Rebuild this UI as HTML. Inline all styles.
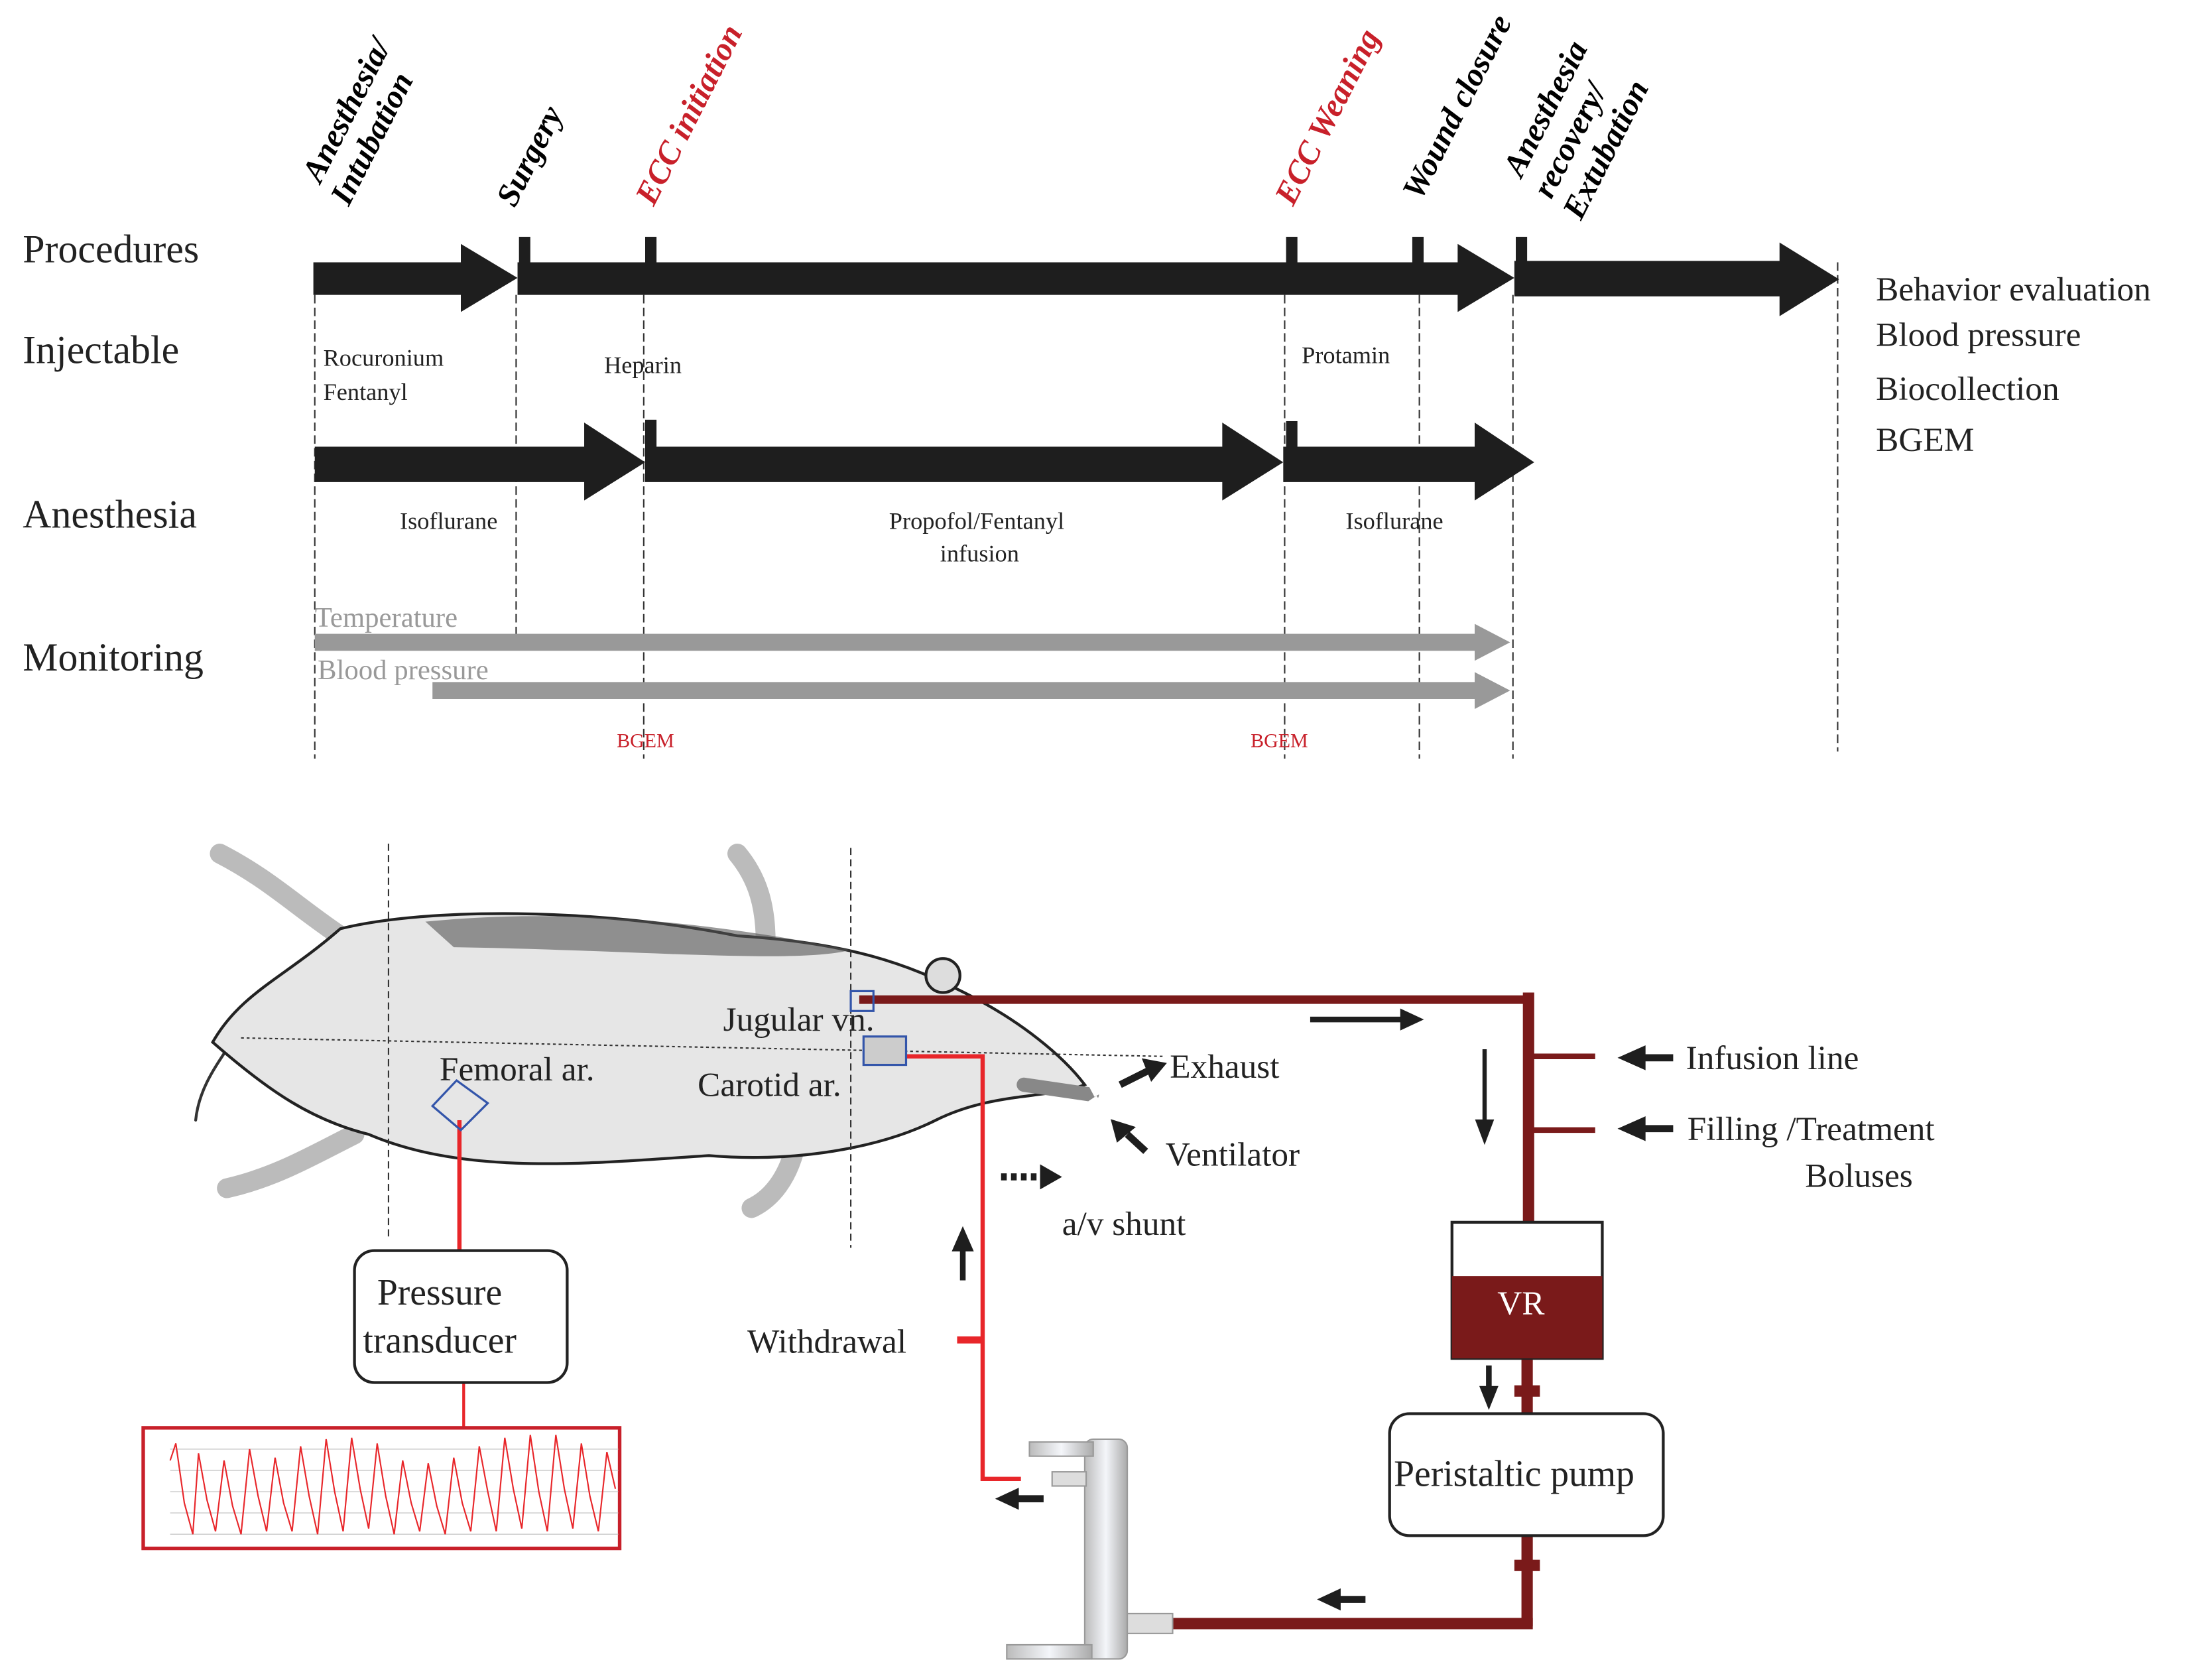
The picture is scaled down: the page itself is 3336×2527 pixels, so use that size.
<!DOCTYPE html>
<html><head><meta charset="utf-8"><style>
html,body{margin:0;padding:0;background:#fff;}
svg{display:block;}
text{font-family:"Liberation Serif",serif;}
</style></head><body>
<svg width="3336" height="2527" viewBox="0 0 1560 1182" preserveAspectRatio="none" xmlns="http://www.w3.org/2000/svg">
<defs>
<linearGradient id="sh" x1="0" x2="1" y1="0" y2="0"><stop offset="0" stop-color="#e8262a"/><stop offset="0.7" stop-color="#d0503a"/><stop offset="1" stop-color="#7a1a1a"/></linearGradient>
<linearGradient id="tube" x1="0" x2="1"><stop offset="0" stop-color="#bbb"/><stop offset="0.5" stop-color="#f4f6fa"/><stop offset="1" stop-color="#aaa"/></linearGradient>
</defs>
<rect width="1560" height="1182" fill="#fff"/>
<g font-weight="bold" font-style="italic" font-size="23">
<text transform="translate(226,130) rotate(-63)">Anesthesia/</text>
<text transform="translate(246,146) rotate(-63)">Intubation</text>
<text transform="translate(363,147) rotate(-63)">Surgery</text>
<text transform="translate(461,146) rotate(-63)" fill="#c8202a">ECC initiation</text>
<text transform="translate(912,146) rotate(-63)" fill="#c8202a">ECC Weaning</text>
<text transform="translate(1002,142) rotate(-63)">Wound closure</text>
<text transform="translate(1073,126) rotate(-63)">Anesthesia</text>
<text transform="translate(1094,141) rotate(-63)">recovery/</text>
<text transform="translate(1115,156) rotate(-63)">Extubation</text>
</g>
<g font-size="28" fill="#222">
<text x="16" y="185">Procedures</text>
<text x="16" y="256">Injectable</text>
<text x="16" y="372">Anesthesia</text>
<text x="16" y="473">Monitoring</text>
</g>
<g stroke="#333" stroke-width="1" stroke-dasharray="6,3">
<line x1="222" y1="208" x2="222" y2="535"/><line x1="364" y1="208" x2="364" y2="450"/>
<line x1="454" y1="208" x2="454" y2="535"/><line x1="906" y1="208" x2="906" y2="535"/>
<line x1="1001" y1="208" x2="1001" y2="535"/><line x1="1067" y1="208" x2="1067" y2="535"/>
<line x1="1296" y1="185" x2="1296" y2="530"/>
</g>
<g fill="#1e1e1e">
<polygon points="221,185 325,185 325,172 365,196 325,220 325,208 221,208"/>
<polygon points="365,185 1028,185 1028,172 1068,196 1028,220 1028,208 365,208"/>
<polygon points="1068,184 1255,184 1255,171 1297,197 1255,223 1255,209 1068,209"/>
<rect x="366" y="167" width="8" height="20"/><rect x="455" y="167" width="8" height="20"/>
<rect x="907" y="167" width="8" height="20"/><rect x="996" y="167" width="8" height="20"/>
<rect x="1069" y="167" width="8" height="20"/>
<polygon points="222,315 412,315 412,298 455,326 412,353 412,340 222,340"/>
<polygon points="455,315 862,315 862,298 905,326 862,353 862,340 455,340"/>
<polygon points="905,315 1040,315 1040,298 1082,326 1040,353 1040,340 905,340"/>
<rect x="455" y="296" width="8" height="20"/><rect x="907" y="297" width="8" height="20"/>
</g>
<g font-size="17" fill="#222">
<text x="228" y="258">Rocuronium</text><text x="228" y="282">Fentanyl</text>
<text x="426" y="263">Heparin</text><text x="918" y="256">Protamin</text>
<text x="282" y="373">Isoflurane</text><text x="627" y="373">Propofol/Fentanyl</text>
<text x="663" y="396">infusion</text><text x="949" y="373">Isoflurane</text>
</g>
<g fill="#999">
<text x="222" y="442" font-size="20">Temperature</text>
<polygon points="222,447 1040,447 1040,440 1065,453 1040,466 1040,459 222,459"/>
<text x="224" y="479" font-size="20">Blood pressure</text>
<polygon points="305,481 1040,481 1040,474 1065,487 1040,500 1040,493 305,493"/>
</g>
<g font-size="14" fill="#c8202a"><text x="435" y="527">BGEM</text><text x="882" y="527">BGEM</text></g>
<g font-size="24" fill="#222">
<text x="1323" y="212">Behavior evaluation</text><text x="1323" y="244">Blood pressure</text>
<text x="1323" y="282">Biocollection</text><text x="1323" y="318">BGEM</text>
</g>
<g stroke="#333" stroke-linecap="round" fill="none">
<path d="M240,660 C210,640 190,620 155,602" stroke-width="14" stroke="#bbb"/>
<path d="M540,665 C540,640 535,620 520,602" stroke-width="14" stroke="#bbb"/>
<path d="M250,800 C220,815 195,830 160,838" stroke-width="14" stroke="#bbb"/>
<path d="M560,812 C555,830 545,845 530,852" stroke-width="14" stroke="#bbb"/>
<path d="M160,740 C150,755 140,770 138,790" stroke-width="2"/>
</g>
<path d="M150,735 C170,700 200,690 240,655 C300,640 420,640 520,660 C600,665 640,680 680,700 C720,720 750,745 765,765 C740,775 700,770 660,790 C620,810 560,820 500,815 C420,820 330,830 260,800 C220,790 190,770 150,735 Z" fill="#e6e6e6" stroke="#222" stroke-width="2"/>
<path d="M300,650 C400,640 500,650 600,670 C560,680 450,670 320,668 Z" fill="#555" opacity="0.6"/>
<circle cx="665" cy="688" r="12" fill="#ddd" stroke="#222" stroke-width="2"/>
<g stroke="#333" stroke-width="1" stroke-dasharray="5,3" fill="none">
<line x1="274" y1="595" x2="274" y2="875"/><line x1="600" y1="598" x2="600" y2="880"/>
<line x1="170" y1="732" x2="820" y2="745" stroke-dasharray="2,2"/>
</g>
<g fill="none" stroke-linecap="butt">
<polyline points="606,705 1078,705" stroke="#7a1a1a" stroke-width="6"/>
<line x1="1078" y1="700" x2="1078" y2="862" stroke="#7a1a1a" stroke-width="8"/>
<line x1="1078" y1="745" x2="1125" y2="745" stroke="#7a1a1a" stroke-width="4"/>
<line x1="1078" y1="797" x2="1125" y2="797" stroke="#7a1a1a" stroke-width="4"/>
<line x1="693" y1="847" x2="1078" y2="847" stroke="url(#sh)" stroke-width="5"/>
<polyline points="612,745 693,745 693,1043 720,1043" stroke="#e8262a" stroke-width="3"/>
<line x1="675" y1="945" x2="693" y2="945" stroke="#e8262a" stroke-width="5"/>
<line x1="324" y1="790" x2="324" y2="882" stroke="#e8262a" stroke-width="3"/>
<line x1="327" y1="975" x2="327" y2="1007" stroke="#e8262a" stroke-width="2"/>
<line x1="1077" y1="958" x2="1077" y2="997" stroke="#7a1a1a" stroke-width="8"/>
<line x1="1077" y1="1083" x2="1077" y2="1147" stroke="#7a1a1a" stroke-width="8"/>
<line x1="826" y1="1145" x2="1081" y2="1145" stroke="#7a1a1a" stroke-width="8"/>
</g>
<rect x="1068" y="977" width="18" height="8" fill="#7a1a1a"/><rect x="1068" y="1100" width="18" height="8" fill="#7a1a1a"/>
<rect x="600" y="699" width="16" height="14" fill="none" stroke="#3355aa" stroke-width="1.5"/>
<rect x="609" y="731" width="30" height="20" fill="#ccc" stroke="#3355aa" stroke-width="1.5"/>
<polygon points="322,762 344,778 325,797 305,780" fill="none" stroke="#3355aa" stroke-width="1.5"/>
<g stroke="#222" stroke-width="2">
<line x1="722" y1="765" x2="770" y2="772" stroke="#888" stroke-width="10" stroke-linecap="round"/>
<line x1="770" y1="770" x2="785" y2="762" stroke="#fff" stroke-width="8"/>
<line x1="770" y1="775" x2="780" y2="790" stroke="#fff" stroke-width="8"/>
</g>
<g fill="#1e1e1e" stroke="#1e1e1e">
<line x1="924" y1="719" x2="990" y2="719" stroke-width="4"/><polygon points="988,712 1003,719 988,726"/>
<line x1="1047" y1="740" x2="1047" y2="792" stroke-width="3"/><polygon points="1041,790 1047,806 1053,790"/>
<line x1="706" y1="830" x2="734" y2="830" stroke-width="5" stroke-dasharray="4,3"/><polygon points="734,822 748,830 734,838"/>
<line x1="679" y1="903" x2="679" y2="880" stroke-width="4"/><polygon points="672,882 679,866 686,882"/>
<line x1="1160" y1="746" x2="1180" y2="746" stroke-width="5"/><polygon points="1160,738 1142,746 1160,754"/>
<line x1="1160" y1="796" x2="1180" y2="796" stroke-width="5"/><polygon points="1160,788 1142,796 1160,804"/>
<line x1="718" y1="1057" x2="736" y2="1057" stroke-width="5"/><polygon points="718,1050 703,1057 718,1064"/>
<line x1="945" y1="1128" x2="963" y2="1128" stroke-width="5"/><polygon points="945,1121 930,1128 945,1135"/>
<line x1="1050" y1="963" x2="1050" y2="980" stroke-width="4"/><polygon points="1044,978 1050,993 1056,978"/>
<line x1="790" y1="765" x2="810" y2="755" stroke-width="5"/><polygon points="806,747 822,750 812,762"/>
<line x1="808" y1="812" x2="795" y2="800" stroke-width="5"/><polygon points="788,805 784,790 800,795"/>
</g>
<rect x="250" y="882" width="150" height="93" rx="14" fill="#fff" stroke="#222" stroke-width="2"/>
<rect x="980" y="997" width="193" height="86" rx="14" fill="#fff" stroke="#222" stroke-width="2"/>
<rect x="1024" y="862" width="106" height="96" fill="#fff" stroke="#222" stroke-width="2"/>
<rect x="1024" y="900" width="106" height="58" fill="#7a1a1a"/>
<rect x="101" y="1007" width="336" height="85" fill="#fff" stroke="#c8202a" stroke-width="2.5"/>
<g stroke="#ccc" stroke-width="0.7"><line x1="120" y1="1022" x2="436" y2="1022"/><line x1="120" y1="1037" x2="436" y2="1037"/><line x1="120" y1="1052" x2="436" y2="1052"/><line x1="120" y1="1067" x2="436" y2="1067"/><line x1="120" y1="1082" x2="436" y2="1082"/></g>
<polyline fill="none" stroke="#e8262a" stroke-width="1" points="120,1030 124,1018 130,1060 136,1082 140,1025 146,1058 152,1080 158,1030 164,1062 170,1082 176,1022 182,1055 188,1080 194,1028 200,1060 206,1080 212,1020 218,1055 224,1082 230,1015 236,1052 242,1080 248,1014 254,1050 260,1078 266,1018 272,1055 278,1082 284,1030 290,1060 296,1080 302,1032 308,1062 314,1082 320,1028 326,1060 332,1080 338,1020 344,1052 350,1080 356,1014 362,1050 368,1078 374,1012 380,1052 386,1080 392,1012 398,1050 404,1078 410,1018 416,1055 422,1080 428,1024 434,1050"/>
<rect x="765" y="1015" width="30" height="155" rx="6" fill="url(#tube)" stroke="#999"/>
<rect x="726" y="1017" width="45" height="10" fill="url(#tube)" stroke="#999"/>
<rect x="710" y="1160" width="60" height="10" fill="url(#tube)" stroke="#999"/>
<rect x="742" y="1038" width="24" height="10" fill="#ddd" stroke="#999"/>
<rect x="795" y="1138" width="32" height="14" fill="#ddd" stroke="#999"/>
<g font-size="24" fill="#222">
<text x="510" y="727">Jugular vn.</text><text x="492" y="773">Carotid  ar.</text>
<text x="310" y="762">Femoral ar.</text>
<text x="825" y="760">Exhaust</text><text x="822" y="822">Ventilator</text>
<text x="1189" y="754">Infusion line</text><text x="1190" y="804">Filling /Treatment</text>
<text x="1273" y="837">Boluses</text><text x="749" y="871">a/v shunt</text>
<text x="527" y="954">Withdrawal</text>
<text x="266" y="920" font-size="26">Pressure</text><text x="256" y="954" font-size="26">transducer</text>
<text x="983" y="1048" font-size="26">Peristaltic pump</text>
<text x="1056" y="927" fill="#fff">VR</text>
</g>
</svg>
</body></html>
